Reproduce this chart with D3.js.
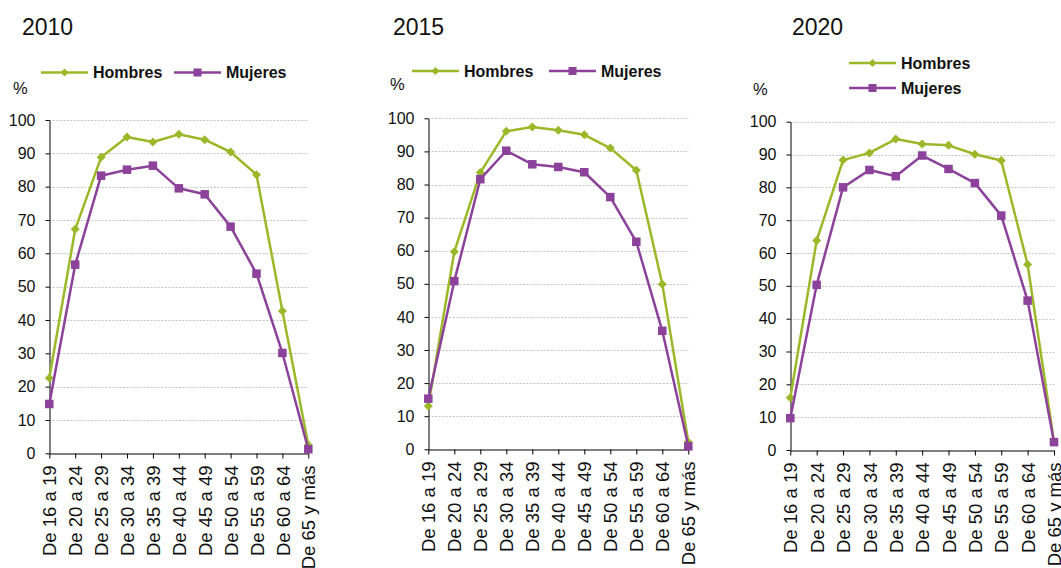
<!DOCTYPE html>
<html>
<head>
<meta charset="utf-8">
<script src="https://cdn.jsdelivr.net/npm/d3@7"></script>
<style>
  html, body { margin: 0; padding: 0; background: #fff; }
  svg { display: block; font-family: "Liberation Sans", Arial, sans-serif; }
</style>
</head>
<body>
<svg id="chart" width="1061" height="568"></svg>
<script>
// ---- data ----
const categories = ["De 16 a 19", "De 20 a 24", "De 25 a 29", "De 30 a 34", "De 35 a 39",
  "De 40 a 44", "De 45 a 49", "De 50 a 54", "De 55 a 59", "De 60 a 64", "De 65 y más"];
const years = ["2010", "2015", "2020"];
const seriesNames = ["Hombres", "Mujeres"];
const hombres2010 = [22.6, 67.2, 88.8, 94.9, 93.4, 95.7, 94.1, 90.4, 83.6, 42.7, 2.5];
const mujeres2010 = [14.8, 56.6, 83.3, 85.1, 86.3, 79.5, 77.7, 68.0, 53.9, 30.1, 1.2];
const hombres2015 = [13.1, 59.7, 83.6, 96.1, 97.4, 96.4, 95.0, 91.0, 84.3, 49.9, 2.2];
const mujeres2015 = [15.3, 50.8, 81.6, 90.2, 86.1, 85.3, 83.7, 76.2, 62.7, 35.8, 0.9];
const hombres2020 = [15.9, 63.8, 88.3, 90.5, 94.7, 93.2, 92.8, 90.1, 88.2, 56.5, 2.5];
const mujeres2020 = [9.7, 50.3, 80.0, 85.3, 83.4, 89.7, 85.6, 81.3, 71.4, 45.5, 2.4];
const yTicks = [0, 10, 20, 30, 40, 50, 60, 70, 80, 90, 100];
const yUnit = "%";

// ---- styles / layout ----
const colors = { Hombres: "#9bb828", Mujeres: "#8c419a" };
const panels = [
  { year: years[0], h: hombres2010, m: mujeres2010,
    x0: 49.3, x1: 308.3, yTop: 120, yBot: 453.3,
    title: [22, 34.5], pct: [13, 94],
    legend: [{ lx: 41, ly: 72.5 }, { lx: 174, ly: 72.5 }] },
  { year: years[1], h: hombres2015, m: mujeres2015,
    x0: 428.3, x1: 688.3, yTop: 118.3, yBot: 449.3,
    title: [393, 34.5], pct: [390, 90],
    legend: [{ lx: 412, ly: 71 }, { lx: 549, ly: 71 }] },
  { year: years[2], h: hombres2020, m: mujeres2020,
    x0: 790.3, x1: 1054, yTop: 121.7, yBot: 450,
    title: [792, 34.5], pct: [753, 95],
    legend: [{ lx: 849, ly: 63 }, { lx: 849, ly: 88 }] }
];

const svg = d3.select("#chart");

function marker(sel, name, size) {
  if (name === "Hombres") {
    const r = size / 2;
    sel.append("path")
      .attr("d", `M0,${-r}L${r},0L0,${r}L${-r},0Z`)
      .attr("fill", colors[name]);
  } else {
    sel.append("rect")
      .attr("x", -size / 2).attr("y", -size / 2)
      .attr("width", size).attr("height", size)
      .attr("fill", colors[name]);
  }
}

panels.forEach(p => {
  const g = svg.append("g");
  const x = d3.scalePoint().domain(categories).range([p.x0, p.x1]);
  const y = d3.scaleLinear().domain([0, 100]).range([p.yBot, p.yTop]);

  // gridlines
  g.append("g").selectAll("line").data(yTicks.filter(t => t > 0)).join("line")
    .attr("x1", p.x0).attr("x2", p.x1)
    .attr("y1", d => Math.round(y(d)) + 0.5).attr("y2", d => Math.round(y(d)) + 0.5)
    .attr("stroke", "#c4c4c4").attr("stroke-width", 1)
    .attr("stroke-dasharray", "2,1.5");

  // y axis
  const ya = g.append("g")
    .attr("transform", `translate(${Math.round(p.x0) + 0.5},0)`)
    .call(d3.axisLeft(y).tickValues(yTicks).tickSize(4).tickPadding(10).tickSizeOuter(0));
  ya.select(".domain").attr("stroke", "#000");
  ya.selectAll(".tick line").attr("stroke", "#000");
  ya.selectAll(".tick text").attr("font-size", 16).attr("fill", "#111")
    .attr("font-family", "Liberation Sans, Arial, sans-serif");

  // x axis
  const xa = g.append("g")
    .attr("transform", `translate(0,${Math.round(p.yBot) + 0.5})`)
    .call(d3.axisBottom(x).tickSize(5).tickSizeOuter(0));
  xa.select(".domain").attr("stroke", "#000");
  xa.selectAll(".tick line").attr("stroke", "#000");
  xa.selectAll(".tick text")
    .attr("font-size", 18.5).attr("fill", "#111")
    .attr("font-family", "Liberation Sans, Arial, sans-serif")
    .attr("transform", "rotate(-90)")
    .attr("text-anchor", "end")
    .attr("x", -12).attr("y", 0).attr("dy", "0.36em");

  // series
  [["Hombres", p.h], ["Mujeres", p.m]].forEach(([name, vals]) => {
    const line = d3.line().x((d, i) => x(categories[i])).y(d => y(d));
    g.append("path").datum(vals).attr("d", line)
      .attr("fill", "none").attr("stroke", colors[name]).attr("stroke-width", 2.5)
      .attr("stroke-linejoin", "round");
    g.append("g").selectAll("g").data(vals).join("g")
      .attr("transform", (d, i) => `translate(${x(categories[i])},${y(d)})`)
      .each(function () { marker(d3.select(this), name, name === "Hombres" ? 9 : 8.5); });
  });

  // title
  g.append("text").attr("x", p.title[0]).attr("y", p.title[1])
    .attr("font-size", 23).attr("fill", "#111").text(p.year);
  // unit
  g.append("text").attr("x", p.pct[0]).attr("y", p.pct[1])
    .attr("font-size", 16.5).attr("fill", "#111").text(yUnit);

  // legend
  seriesNames.forEach((name, i) => {
    const L = p.legend[i];
    const lg = g.append("g").attr("transform", `translate(${L.lx},${L.ly})`);
    lg.append("line").attr("x1", 0).attr("x2", 47).attr("y1", 0).attr("y2", 0)
      .attr("stroke", colors[name]).attr("stroke-width", 2.5);
    const mg = lg.append("g").attr("transform", "translate(23.5,0)");
    marker(mg, name, name === "Hombres" ? 8 : 8);
    lg.append("text").attr("x", 52).attr("y", 0).attr("dy", "0.36em")
      .attr("font-size", 16).attr("font-weight", "bold").attr("fill", "#111").text(name);
  });
});
</script>
</body>
</html>
